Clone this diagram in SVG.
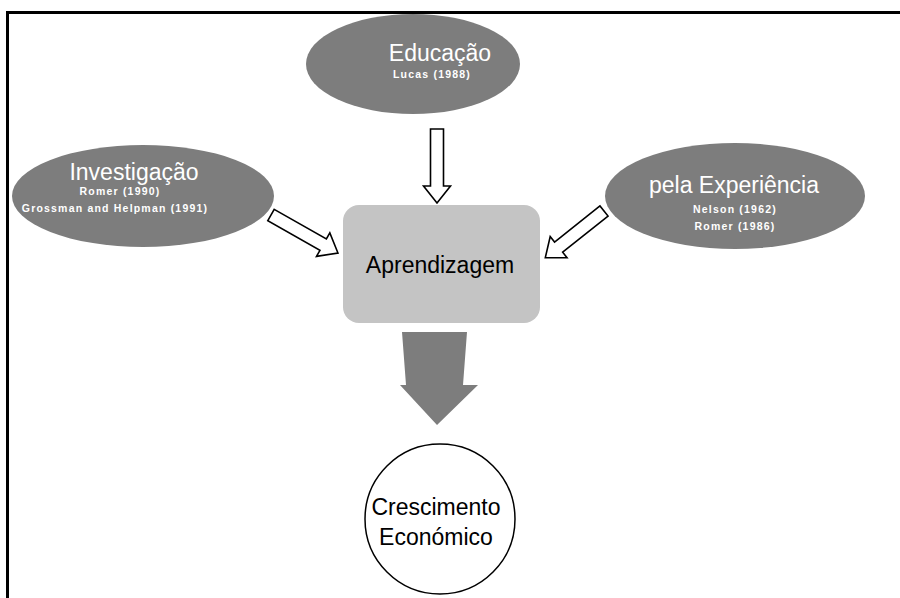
<svg xmlns="http://www.w3.org/2000/svg" width="900" height="598" viewBox="0 0 900 598">
  <style>
    .oval { fill: #7d7d7d; }
    .title { font-family: "Liberation Sans", Arial, sans-serif; fill: #ffffff; font-size: 23px; text-anchor: middle; }
    .sub { font-family: "Liberation Sans", Arial, sans-serif; fill: #ffffff; font-size: 10.5px; font-weight: bold; text-anchor: middle; letter-spacing: 1.2px; }
    .dark { font-family: "Liberation Sans", Arial, sans-serif; fill: #000000; font-size: 23px; text-anchor: middle; }
    .outline-arrow { fill: #ffffff; stroke: #000000; stroke-width: 1.6; stroke-linejoin: miter; }
  </style>
  <rect x="0" y="0" width="900" height="598" fill="#ffffff"/>
  <path d="M7.5,598 L7.5,12.5 L900,12.5" fill="none" stroke="#000000" stroke-width="3"/>

  <g id="connectors">
    <path class="outline-arrow" transform="translate(437,129) rotate(90)" d="M0,-6.5 L57,-6.5 L57,-13.5 L74,0 L57,13.5 L57,6.5 L0,6.5 Z"/>
    <path class="outline-arrow" transform="translate(271,215) rotate(29.6)" d="M0,-6.5 L60,-6.5 L60,-13.5 L77,0 L60,13.5 L60,6.5 L0,6.5 Z"/>
    <path class="outline-arrow" transform="translate(604,211) rotate(141.5)" d="M0,-6.5 L58,-6.5 L58,-13.5 L75,0 L58,13.5 L58,6.5 L0,6.5 Z"/>
    <path d="M402,332 L467,332 L463,385 L478,385 L437,425 L400,385 L406,385 Z" fill="#7d7d7d"/>
  </g>

  <g id="educacao">
    <ellipse class="oval" cx="413" cy="64" rx="107" ry="50"/>
    <text class="title" x="440" y="61">Educação</text>
    <text class="sub" x="432" y="78">Lucas (1988)</text>
  </g>

  <g id="investigacao">
    <ellipse class="oval" cx="143" cy="196" rx="131" ry="51"/>
    <text class="title" x="134" y="180">Investigação</text>
    <text class="sub" x="120" y="195">Romer (1990)</text>
    <text class="sub" x="115" y="212">Grossman and Helpman (1991)</text>
  </g>

  <g id="experiencia">
    <ellipse class="oval" cx="735" cy="196" rx="130" ry="53"/>
    <text class="title" x="734" y="193">pela Experiência</text>
    <text class="sub" x="735" y="213">Nelson (1962)</text>
    <text class="sub" x="735" y="230">Romer (1986)</text>
  </g>

  <g id="aprendizagem">
    <rect x="343" y="205" width="197" height="118" rx="16" ry="16" fill="#c4c4c4"/>
    <text class="dark" x="440" y="273">Aprendizagem</text>
  </g>

  <g id="crescimento">
    <circle cx="440" cy="519" r="75" fill="#ffffff" stroke="#000000" stroke-width="1.5"/>
    <text class="dark" x="436" y="515">Crescimento</text>
    <text class="dark" x="436" y="545">Económico</text>
  </g>
</svg>
